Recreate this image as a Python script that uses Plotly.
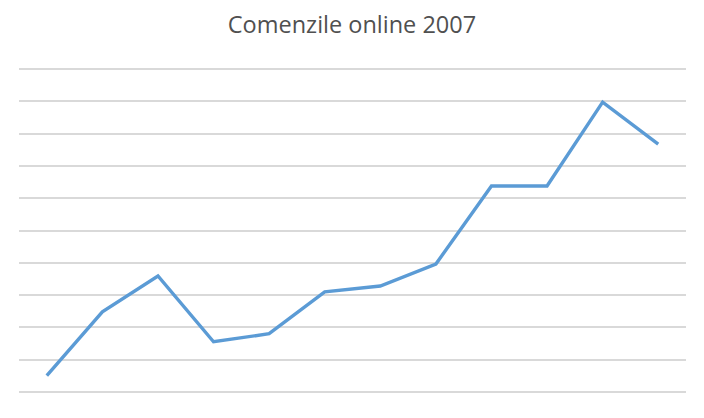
import plotly.graph_objects as go

months = ["Ian", "Feb", "Mar", "Apr", "Mai", "Iun", "Iul", "Aug", "Sep", "Oct", "Nov", "Dec"]
orders = [0.5, 2.48, 3.59, 1.55, 1.8, 3.1, 3.28, 3.96, 6.38, 6.38, 8.98, 7.68]

fig = go.Figure()
fig.add_trace(go.Scatter(x=months, y=orders, mode="lines", name="Comenzi",
                         line=dict(color="#5B9BD5", width=3.4), showlegend=False))

W, H = 688, 410
fig.update_layout(
    width=W, height=H,
    paper_bgcolor="white", plot_bgcolor="white",
    margin=dict(l=11, r=10, t=58, b=23),
    title=dict(text="Comenzile online 2007", x=0.5, xanchor="center",
               y=1 - 17 / H, yanchor="middle",
               font=dict(family="Open Sans, Liberation Sans, sans-serif", size=23.5, color="#505050")),
    xaxis=dict(type="category", range=[-0.5, 11.5], showgrid=False, showticklabels=False,
               zeroline=False, showline=False, ticks=""),
    yaxis=dict(range=[-0.1, 10.1], tick0=0, dtick=1, showgrid=True, gridcolor="#D9D9D9",
               gridwidth=1.5, showticklabels=False, zeroline=False, showline=False, ticks=""),
)

fig.write_html("out.html")
